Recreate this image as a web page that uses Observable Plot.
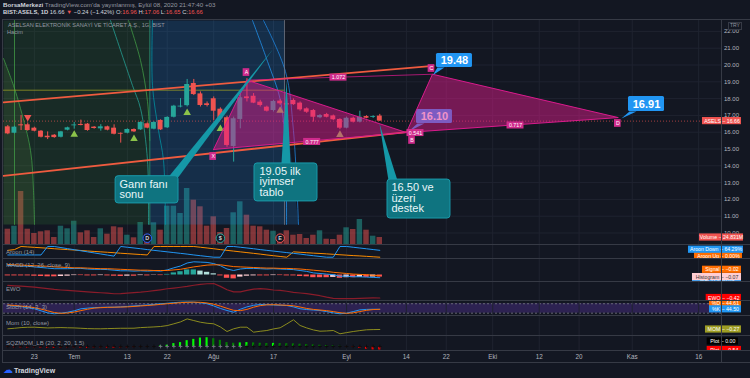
<!DOCTYPE html>
<html><head><meta charset="utf-8">
<script src="https://cdn.jsdelivr.net/npm/d3@7"></script>
<script src="https://cdn.jsdelivr.net/npm/@observablehq/plot@0.6"></script>
<style>
html,body{margin:0;padding:0;background:#131722;}
#root{position:relative;width:750px;height:378px;background:#131722;overflow:hidden;font-family:"Liberation Sans",Arial,sans-serif;}
#root svg{position:absolute;left:0;}
.t{position:absolute;white-space:nowrap;line-height:1;}
.sep{position:absolute;background:#363a45;}
</style></head>
<body><div id="root"></div>
<script>
// ---------------- DATA ----------------
const candleOpen  = [16.32,15.94,16.44,16.44,16.24,16.06,15.76,15.82,15.70,16.12,16.38,16.46,16.48,16.30,16.20,16.32,16.24,15.93,15.94,16.16,16.14,16.50,16.18,16.70,16.26,16.89,17.50,17.58,18.90,18.28,17.69,17.99,17.37,16.86,15.15,16.76,18.10,18.14,17.79,17.49,17.29,17.85,17.70,17.89,17.73,17.39,17.29,16.86,17.05,16.97,16.76,16.24,16.83,16.60,16.93,16.88,16.96];
const candleHigh  = [16.40,16.36,16.99,16.55,16.30,16.10,16.02,15.86,16.05,16.30,16.58,16.72,16.52,16.34,16.45,16.36,16.44,15.96,16.20,16.20,16.62,16.56,16.62,16.74,16.92,17.60,18.00,19.14,19.14,18.40,17.80,18.10,17.45,16.95,16.90,18.50,19.19,18.30,17.90,17.55,17.90,17.95,17.92,17.98,17.80,17.45,17.35,17.05,17.12,17.02,16.80,16.90,16.90,17.25,16.98,16.98,17.06];
const candleLow   = [15.85,15.90,16.10,16.06,16.02,15.66,15.56,15.64,15.66,16.08,16.18,16.38,16.06,16.18,16.06,16.08,15.84,15.35,15.90,15.98,16.10,16.20,16.14,16.10,16.22,16.85,17.45,17.50,18.18,17.50,17.50,16.70,16.70,15.10,14.22,16.20,17.80,17.70,17.50,17.20,17.20,17.60,17.50,17.60,17.25,17.12,16.60,16.80,16.85,16.70,16.15,16.20,16.55,16.55,16.80,16.82,16.65];
const candleClose = [15.90,16.30,16.38,16.10,16.06,15.70,15.67,15.68,16.02,16.26,16.42,16.40,16.10,16.22,16.32,16.12,15.88,15.88,16.16,16.02,16.58,16.24,16.58,16.14,16.88,17.55,17.55,18.84,18.24,17.59,17.59,17.25,16.80,15.21,16.80,18.05,18.00,17.73,17.59,17.25,17.83,17.69,17.62,17.64,17.33,17.19,16.89,16.99,16.89,16.74,16.24,16.83,16.60,16.89,16.83,16.90,16.66];
const volumeM = [54.3,65.0,188.2,54.3,39.1,45.1,48.6,24.9,65.0,55.7,82.7,41.5,48.6,24.9,55.7,36.6,62.8,59.3,33.0,23.8,78.1,35.5,77.0,50.8,136.0,136.0,110.1,198.8,157.3,133.8,65.0,98.3,42.6,56.8,112.5,151.6,104.0,65.0,62.8,50.8,47.2,33.0,48.6,33.0,35.5,21.3,33.0,48.6,18.8,17.8,33.0,59.3,53.3,88.8,50.8,29.5,24.83];
const aroonUp   = [64,71,100,96,92,88,84,79,75,71,67,63,58,54,50,46,42,37,33,29,25,21,100,100,100,100,100,100,100,93,86,79,71,64,57,50,43,36,29,21,14,7,0,50,46,42,38,35,31,27,23,19,15,12,8,4,0];
const aroonDown = [21,21,21,21,21,21,100,100,90,80,70,60,50,40,30,20,10,100,93,86,79,71,64,57,50,43,36,29,21,14,7,0,0,100,100,93,86,79,71,64,57,50,43,36,29,21,14,7,0,0,100,100,92.86,85.71,78.57,71.43,64.29];
const macdLine   = [.32,.31,.30,.29,.27,.25,.23,.21,.21,.21,.22,.22,.20,.19,.19,.18,.16,.14,.14,.13,.14,.13,.14,.13,.17,.24,.30,.40,.44,.43,.42,.38,.31,.20,.15,.20,.22,.22,.21,.20,.21,.20,.19,.18,.15,.12,.07,.05,.03,.01,-.04,-.04,-.06,-.06,-.07,-.08,-.09];
const macdSignal = [.35,.34,.33,.32,.31,.30,.29,.27,.26,.25,.24,.24,.23,.22,.21,.21,.20,.19,.18,.17,.16,.16,.15,.15,.15,.17,.19,.23,.27,.30,.33,.34,.34,.31,.28,.27,.26,.25,.24,.23,.23,.22,.22,.21,.20,.18,.16,.14,.12,.09,.07,.05,.03,.02,.01,-.01,-.02];
const macdHist   = [-.03,-.03,-.03,-.03,-.04,-.05,-.06,-.06,-.05,-.04,-.02,-.02,-.03,-.03,-.02,-.03,-.04,-.05,-.04,-.04,-.02,-.03,-.01,-.02,.02,.07,.11,.17,.17,.13,.09,.04,-.03,-.11,-.13,-.07,-.04,-.03,-.03,-.03,-.02,-.02,-.03,-.03,-.05,-.06,-.09,-.09,-.09,-.08,-.11,-.09,-.09,-.08,-.08,-.07,-.07];
const ewo = [.68,.65,.62,.57,.53,.47,.40,.33,.28,.24,.20,.16,.12,.08,.04,.00,-.05,-.04,.00,.05,.09,.15,.22,.30,.39,.45,.52,.60,.70,.78,.83,.85,.60,.30,.12,.12,.25,.36,.41,.35,.28,.24,.17,.08,.02,-.03,-.12,-.22,-.35,-.45,-.47,-.48,-.47,-.45,-.43,-.41,-.42];
const stochK = [69,65,62,55,48,35,22,16,20,26,35,48,52,55,57,58,58,60,63,66,69,72,76,80,83,87,90,91,90,86,80,66,50,37,26,45,60,70,75,74,72,70,69,60,48,43,40,37,30,22,16,20,30,41,44,45,44.5];
const stochD = [72,69,65,61,55,46,35,24,19,21,27,36,45,52,55,57,58,59,60,63,66,69,72,76,80,83,87,89,90,89,85,77,65,51,38,36,44,58,68,73,74,72,70,67,59,50,44,40,36,30,23,19,22,30,38,43,44.61];
const mom = [-.06,.1,.3,.4,.42,.3,.2,.25,.3,.24,.2,.1,0,-.05,-.06,0,.05,.1,.1,.12,.3,.4,.5,.63,.9,1.43,2.0,2.9,2.4,1.9,1.6,1.43,.5,-.87,-.06,.42,.42,-1.07,-.8,-.57,-.1,.24,1.4,2.63,.93,.2,-.4,-.78,-.7,-.57,-1.55,-1.2,-.87,-.6,-.36,-.3,-.27];
const sqz = [-.15,-.2,-.22,-.25,-.22,-.25,-.28,-.3,-.28,-.25,-.22,-.25,-.28,-.25,-.22,-.25,-.28,-.26,-.22,-.18,-.14,-.1,-.05,.08,.2,.45,.6,.9,1.1,1.3,1.35,1.2,.95,.6,.5,.55,.6,.55,.5,.45,.48,.45,.42,.4,.35,.3,.25,.2,.15,.1,.05,-.05,-.12,-.3,-.42,-.52,-.54];
const priceTicks = [10,11,12,13,14,15,16,17,18,19,20,21,22];
const timeTickIdx = [4,10,18,24,31,40,51,60,66,73,80,86,94,104];
const timeTickLabels = ["23","Tem","13","22","Ağu","17","Eyl","14","22","Eki","12","20","Kas","16"];
const upMarkerIdx = [10,19,27,32,41,50];
const upMarkerPrice = [15.86,15.6,17.15,16.2,17.29,15.85];
const downMarkerIdx = [3];
const downMarkerPrice = [16.89];
const eventIdx = [21,32,41];
const eventText = ["D","$","E"];
const eventColor = ["#2962ff","#26a69a","#ef5350"];
// harmonic pattern (XABCD)
const patternNames = ["X","A","B","C","D"];
const patternIdx   = [30.97,36.0,60.0,63.93,91.9];
const patternPrice = [14.97,19.1,15.98,19.45,16.87];
const patternLabelIdx   = [30.92,35.93,60.85,63.78,91.83];
const patternLabelPrice = [14.55,19.55,15.51,19.79,16.52];
const ratioText  = ["1.072","0.777","0.541","0.717"];
const ratioIdx   = [49.78,45.82,61.37,76.43];
const ratioPrice = [19.25,15.42,15.95,16.4];
// trend lines [idx, price]
const upperLine = [[-0.65,17.77],[64.08,19.95]];
const lowerLine = [[-0.65,13.40],[60.02,16.0]];
const olivePrice = 18.5;
// Gann fan drawing (idx, price)
const gannOlive = [[-0.65,20.39],[0.86,18.78],[1.91,17.41],[3.42,14.91],[3.87,12.53],[4.02,10.51],[-0.65,10.51]];
const gannGreen = [[-0.65,22.65],[21.38,22.65],[21.38,10.51],[-0.65,10.51]];
const gannBlue  = [[21.38,22.65],[41.65,22.65],[41.8,17.89],[42.86,13.72],[43.76,10.51],[21.38,10.51]];
const gannArcs = [
  {c:"#43a047", p:[[-0.65,20.39],[0.86,18.78],[1.91,17.41],[3.42,14.91],[3.87,12.53],[4.02,10.51]]},
  {c:"#43a047", p:[[1.01,22.65],[1.01,10.51]]},
  {c:"#26a69a", p:[[15.46,22.65],[18.77,18.78],[19.98,17.41],[21.03,14.32],[21.18,10.51]]},
  {c:"#43a047", p:[[18.17,22.65],[19.98,20.27],[21.03,17.83],[21.38,15.51]]},
  {c:"#2e9e7a", p:[[21.38,22.65],[21.38,10.51]]},
  {c:"#0097a7", p:[[21.78,22.65],[21.78,18.78],[22.69,16.1],[23.44,14.32],[23.74,10.51]]},
  {c:"#2196f3", p:[[36.84,22.65],[39.1,20.21],[41.05,17.89],[41.8,14.91],[41.96,10.51]]},
  {c:"#1e88e5", p:[[38.49,22.65],[41.8,19.61],[43.0,16.1],[43.76,10.51]]},
  {c:"#787b86", p:[[41.65,22.65],[41.65,10.51]]}
];
// teal text callouts
const noteText  = ["Gann fanı\nsonu","19.05 ilk\niyimser\ntablo","16.50 ve\nüzeri\ndestek"];
const noteBox   = [[16.23,25.7,11.76,13.38],[37.14,46.62,11.88,14.14],[57.16,66.64,10.86,13.18]];
const noteAt    = [[16.81,13.125],[37.89,13.88],[57.76,12.905]];
const noteTip   = [[40.0,20.98],[41.96,19.08],[55.95,16.52]];
const noteBase  = [[24.19,25.7,13.33],[41.2,42.56,14.14],[57.31,58.66,13.12]];
// blue price callouts
const calloutText = ["19.48","16.10","16.91"];
const calloutBox  = [[64.53,69.95,19.85,20.68],[61.52,66.94,16.52,17.35],[93.44,98.86,17.23,18.13]];
const calloutAt   = [[67.24,20.27],[64.23,16.94],[96.15,17.68]];
const calloutTip  = [[64.0,19.4],[60.32,16.04],[92.38,16.82]];
const calloutBase = [[64.68,65.74,19.85],[61.67,62.72,16.52],[93.59,94.64,17.23]];

// ---------------- LAYOUT ----------------
const root = document.getElementById("root");
const XDOM = [-0.647, 107.44];
const FONT = "Liberation Sans, Arial, sans-serif";
const pxToIdx = px => (px - 7.3) / 6.643;
const n = candleOpen.length;
const candles = candleOpen.map((o,i)=>({i,o,h:candleHigh[i],l:candleLow[i],c:candleClose[i],v:volumeM[i]}));
const UP = "#26a69a", DOWN = "#ef5350";

function addPlot(top, height, ydom, marks) {
  const svg = Plot.plot({
    width: 750, height, marginLeft: 3, marginRight: 29, marginTop: 0, marginBottom: 0,
    x: {domain: XDOM, axis: null},
    y: {domain: ydom, axis: null},
    color: {type: "identity"},
    style: {background: "transparent", maxWidth: "none", fontFamily: FONT},
    marks
  });
  svg.style.position = "absolute"; svg.style.left = "0px"; svg.style.top = top + "px";
  root.appendChild(svg);
  return svg;
}
function flag(label, value, px1, px2, fill, textFill, ydom, height, dy = 0) {
  const u = (ydom[1] - ydom[0]) / height, h = 3.6 * u;
  return [
    Plot.rect([0], {x1: pxToIdx(px1), x2: pxToIdx(px2), y1: value - h, y2: value + h, fill, dy}),
    Plot.text([0], {x: pxToIdx((px1 + px2) / 2), y: value, text: () => label, fill: textFill, fontSize: 5.2, dy, fontFamily: FONT})
  ];
}
const vgrid = Plot.ruleX(timeTickIdx, {x: d => d, stroke: "#1f2330"});

// --- main pane (y 20..244) ---
const MAINDOM = [9.315, 22.649], MAINH = 224;
// layer 0: grid
addPlot(20, MAINH, MAINDOM, [
  Plot.ruleY(priceTicks, {y: d => d, stroke: "#1f2330"}),
  vgrid
]);
// layer 1: volume
const VOLDOM = [0, 795.2];
addPlot(20, MAINH, VOLDOM, [
  Plot.rect(candles, {x1: d => d.i - 0.41, x2: d => d.i + 0.41, y1: 0, y2: "v",
    fill: d => d.c >= d.o ? "rgba(38,166,154,0.5)" : "rgba(239,83,80,0.5)"}),
  Plot.dot(eventIdx, {x: d => d, y: 22.4, r: 4.3, fill: "#131722", stroke: (d,i) => eventColor[i], strokeWidth: 1}),
  Plot.text(eventIdx, {x: d => d, y: 22.4, text: (d,i) => eventText[i], fill: "#d1d4dc", fontSize: 5.5, fontWeight: "bold"})
]);
// layer 2: price overlay
const poly = (pts, opts) => Plot.line(pts, {x: d => d[0], y: d => d[1], ...opts});
const polyClosed = (pts, opts) => Plot.line([...pts, pts[0]], {x: d => d[0], y: d => d[1], ...opts});
const pat = i => [patternIdx[i], patternPrice[i]];
const mainMarks = [
  polyClosed(gannGreen, {fill: "rgba(56,142,60,0.17)", stroke: "none", clip: true}),
  polyClosed(gannOlive, {fill: "rgba(139,195,74,0.10)", stroke: "none", clip: true}),
  polyClosed(gannBlue, {fill: "rgba(33,150,243,0.19)", stroke: "none", clip: true}),
  ...gannArcs.map(a => poly(a.p, {stroke: a.c, strokeWidth: 1, strokeOpacity: 0.75, curve: "catmull-rom", clip: true})),
  Plot.ruleY([olivePrice], {x1: -0.65, x2: 41.65, stroke: "#9e9d24", strokeOpacity: 0.75}),
  poly(upperLine, {stroke: "#ef5b3f", strokeWidth: 1.8}),
  poly(lowerLine, {stroke: "#ef5b3f", strokeWidth: 1.8}),
  Plot.ruleY([candleClose[n-1]], {stroke: "#ef5350", strokeOpacity: 0.65, strokeDasharray: "1,2"}),
  Plot.ruleX(candles, {x: "i", y1: "l", y2: "h", stroke: d => d.c >= d.o ? UP : DOWN, strokeWidth: 1}),
  Plot.rect(candles, {x1: d => d.i - 0.37, x2: d => d.i + 0.37,
    y1: d => Math.min(d.o, d.c), y2: d => Math.max(d.o, d.c, Math.min(d.o, d.c) + 0.05),
    fill: d => d.c >= d.o ? UP : DOWN}),
  Plot.dot(upMarkerIdx, {x: d => d, y: (d,i) => upMarkerPrice[i], symbol: "triangle", r: 2.8, fill: "#8bc34a", stroke: "none"}),
  Plot.dot(downMarkerIdx, {x: d => d, y: (d,i) => downMarkerPrice[i], symbol: "triangle", rotate: 180, r: 2.8, fill: "#ef5350", stroke: "none"}),
  // blue callout under the BCD triangle (16.10)
  polyClosed([[calloutBase[1][0],calloutBase[1][2]], calloutTip[1], [calloutBase[1][1],calloutBase[1][2]]], {fill: "#2196f3", stroke: "none"}),
  Plot.rect([1], {x1: i => calloutBox[i][0], x2: i => calloutBox[i][1], y1: i => calloutBox[i][2], y2: i => calloutBox[i][3], fill: "#2196f3", rx: 1.5}),
  Plot.text([1], {x: i => calloutAt[i][0], y: i => calloutAt[i][1], text: i => calloutText[i], fill: "#fff", fontSize: 11, fontWeight: "bold", fontFamily: FONT}),
  // XABCD pattern
  polyClosed([pat(0), pat(1), pat(2)], {fill: "rgba(226,28,140,0.48)", stroke: "#d81b8c", strokeWidth: 1}),
  polyClosed([pat(2), pat(3), pat(4)], {fill: "rgba(226,28,140,0.48)", stroke: "#d81b8c", strokeWidth: 1}),
  poly([pat(1), pat(3)], {stroke: "rgba(216,27,140,0.75)", strokeWidth: 1}),
  Plot.rect(ratioText, {x1: (d,i) => ratioIdx[i] - 1.28, x2: (d,i) => ratioIdx[i] + 1.28, y1: (d,i) => ratioPrice[i] - 0.21, y2: (d,i) => ratioPrice[i] + 0.21, fill: "#cf2b8c"}),
  Plot.text(ratioText, {x: (d,i) => ratioIdx[i], y: (d,i) => ratioPrice[i], text: d => d, fill: "#fff", fontSize: 5.3, fontFamily: FONT}),
  Plot.rect(patternNames, {x1: (d,i) => patternLabelIdx[i] - 0.5, x2: (d,i) => patternLabelIdx[i] + 0.5, y1: (d,i) => patternLabelPrice[i] - 0.23, y2: (d,i) => patternLabelPrice[i] + 0.23, fill: "#cf2b8c"}),
  Plot.text(patternNames, {x: (d,i) => patternLabelIdx[i], y: (d,i) => patternLabelPrice[i], text: d => d, fill: "#fff", fontSize: 5.3, fontFamily: FONT}),
  // blue callouts 19.48 and 16.91
  ...[0, 2].flatMap(k => [
    polyClosed([[calloutBase[k][0],calloutBase[k][2]], calloutTip[k], [calloutBase[k][1],calloutBase[k][2]]], {fill: "#2196f3", stroke: "none"}),
    Plot.rect([k], {x1: i => calloutBox[i][0], x2: i => calloutBox[i][1], y1: i => calloutBox[i][2], y2: i => calloutBox[i][3], fill: "#2196f3", rx: 1.5}),
    Plot.text([k], {x: i => calloutAt[i][0], y: i => calloutAt[i][1], text: i => calloutText[i], fill: "#fff", fontSize: 11, fontWeight: "bold", fontFamily: FONT})
  ]),
  // teal notes
  ...noteText.flatMap((t, k) => [
    polyClosed([[noteBase[k][0],noteBase[k][2]], noteTip[k], [noteBase[k][1],noteBase[k][2]]], {fill: "#1598a7", stroke: "none", clip: true}),
    Plot.rect([k], {x1: i => noteBox[i][0], x2: i => noteBox[i][1], y1: i => noteBox[i][2], y2: i => noteBox[i][3], fill: "#0f7480", stroke: "#1a9aaa", strokeWidth: 1, rx: 3}),
    Plot.text([k], {x: i => noteAt[i][0], y: i => noteAt[i][1], text: i => noteText[i], fill: "#e8f6f8", fontSize: 11, lineAnchor: "top", textAnchor: "start", lineHeight: 0.93, fontFamily: FONT})
  ]),
  Plot.axisY(priceTicks, {anchor: "right", tickSize: 0, tickPadding: 2.5, fontSize: 6, fill: "#b2b5be", tickFormat: d => d.toFixed(2), textAnchor: "start"}),
  ...flag("ASELS − 16.66", candleClose[n-1], 702, 741, "#ef5350", "#fff", MAINDOM, MAINH)
];
addPlot(20, MAINH, MAINDOM, mainMarks);
// layer 3: volume value flag above the price axis labels
addPlot(20, MAINH, VOLDOM, [
  ...flag("Volume − 24.831M", volumeM[n-1], 699, 743, "#ef5350", "#fff", VOLDOM, MAINH)
]);

// --- Aroon (245..258) ---
const idx = d3.range(n);
const AR = [-12.1, 109.3];
addPlot(245, 13, AR, [
  vgrid,
  Plot.line(idx, {x: d => d, y: i => aroonUp[i], stroke: "#fb8c00", strokeWidth: 1}),
  Plot.line(idx, {x: d => d, y: i => aroonDown[i], stroke: "#2196f3", strokeWidth: 1}),
  ...flag("Aroon Up − 0.00%", aroonUp[n-1], 694, 742, "#ff6d00", "#fff", AR, 13, -1.2),
  ...flag("Aroon Down − 64.29%", aroonDown[n-1], 688, 743, "#2196f3", "#fff", AR, 13, -0.6)
]);
// --- MACD (259..281) ---
const MD = [-0.217, 0.517];
addPlot(259, 22, MD, [
  vgrid,
  Plot.rect(idx, {x1: d => d - 0.4, x2: d => d + 0.4, y1: 0, y2: i => macdHist[i],
    fill: i => macdHist[i] >= 0 ? (i > 0 && macdHist[i] < macdHist[i-1] ? "#b2dfdb" : "#26a69a")
                                 : (i > 0 && macdHist[i] > macdHist[i-1] ? "#ffcdd2" : "#ff5252")}),
  Plot.line(idx, {x: d => d, y: i => macdLine[i], stroke: "#2196f3", strokeWidth: 1}),
  Plot.line(idx, {x: d => d, y: i => macdSignal[i], stroke: "#ff6d00", strokeWidth: 1}),
  ...flag("MACD − −0.09", macdLine[n-1], 692, 741, "#2196f3", "#fff", MD, 22, 2.5),
  ...flag("Histogram − −0.07", macdHist[n-1], 692, 741, "#ffcdd2", "#333", MD, 22, 0),
  ...flag("Signal − −0.02", macdSignal[n-1], 702, 741, "#ff6d00", "#fff", MD, 22, -5.8)
]);
// --- EWO (282..300) ---
const EW = [-0.64, 0.939];
addPlot(282, 18, EW, [
  vgrid,
  Plot.line(idx, {x: d => d, y: i => ewo[i], stroke: "#8a1c2a", strokeWidth: 1.2}),
  ...flag("EWO − −0.42", ewo[n-1], 705.7, 741, "#ff0000", "#fff", EW, 18)
]);
// --- Stoch (301..315) ---
const ST = [5.1, 94.3];
addPlot(301, 14, ST, [
  Plot.rect([0], {x1: XDOM[0], x2: XDOM[1], y1: 20, y2: 80, fill: "rgba(103,58,183,0.32)"}),
  Plot.ruleY([20, 80], {stroke: "#787b86", strokeDasharray: "2,2", strokeOpacity: 0.8}),
  vgrid,
  Plot.line(idx, {x: d => d, y: i => stochK[i], stroke: "#2196f3", strokeWidth: 1}),
  Plot.line(idx, {x: d => d, y: i => stochD[i], stroke: "#ff6d00", strokeWidth: 1}),
  ...flag("%D − 44.61", stochD[n-1], 709, 741, "#ff6d00", "#fff", ST, 14, -6.3),
  ...flag("%K − 44.50", stochK[n-1], 709, 741, "#2196f3", "#fff", ST, 14)
]);
// --- Mom (316..335) ---
const MO = [-2.06, 3.61];
addPlot(316, 19, MO, [
  vgrid,
  Plot.line(idx, {x: d => d, y: i => mom[i], stroke: "#8c8c1e", strokeWidth: 1}),
  ...flag("MOM − −0.27", mom[n-1], 705, 741, "#9e9d24", "#fff", MO, 19)
]);
// --- SQZMOM (336..350) ---
const SQ = [-0.615, 1.54];
addPlot(336, 14, SQ, [
  vgrid,
  Plot.rect(idx, {x1: d => d - 0.16, x2: d => d + 0.16, y1: 0, y2: i => sqz[i],
    fill: i => sqz[i] >= 0 ? (i > 0 && sqz[i] < sqz[i-1] ? "#008000" : "#00ff00")
                           : (i > 0 && sqz[i] > sqz[i-1] ? "#800000" : "#ff0000")}),
  Plot.dot(idx, {x: d => d, y: 0, symbol: "plus", r: 1.3, stroke: i => (i > 22 && i < 36) ? "#787b86" : "#0b0b0b", strokeWidth: 0.8}),
  ...flag("Plot − 0.00", 0, 706.7, 738, "#000000", "#fff", SQ, 14, -5),
  ...flag("Plot − −0.54", sqz[n-1], 706.7, 741, "#ff0000", "#fff", SQ, 14)
]);
// --- time axis (351..362) ---
addPlot(351, 11, [0, 1], [
  Plot.text(timeTickIdx, {x: d => d, frameAnchor: "middle", text: (d,i) => timeTickLabels[i], fill: "#b2b5be", fontSize: 6.3, fontFamily: FONT})
]);

// ---------------- HTML text & frame ----------------
function addText(html, x, y, size, color, extra = "") {
  const d = document.createElement("div");
  d.className = "t"; d.style.left = x + "px"; d.style.top = y + "px";
  d.style.fontSize = size + "px"; d.style.color = color; d.style.cssText += extra;
  d.innerHTML = html; root.appendChild(d);
}
function sep(x, y, w, h) {
  const d = document.createElement("div"); d.className = "sep";
  d.style.left = x + "px"; d.style.top = y + "px"; d.style.width = w + "px"; d.style.height = h + "px";
  root.appendChild(d);
}
[19, 244, 258, 281, 300, 315, 335, 350, 362].forEach(y => sep(2, y, 748, 1));
sep(2, 19, 1, 344);
sep(721, 19, 1, 344);

const R = "#ef5350";
addText(`<b style="color:#d1d4dc">BorsaMerkezi</b> <span style="color:#9598a1">TradingView.com'da yayınlanmış, Eylül 08, 2020 21:47:40 +03</span>`, 3, 2, 6.2, "#9598a1");
addText(`<b style="color:#d1d4dc">BIST:ASELS, 1D</b> <span style="color:#d1d4dc">16.66</span> <span style="color:${R}">▼</span> <span style="color:#d1d4dc">−0.24 (−1.42%)</span> <span style="color:#d1d4dc">O:</span><span style="color:${R}">16.96</span> <span style="color:#d1d4dc">H:</span><span style="color:${R}">17.06</span> <span style="color:#d1d4dc">L:</span><span style="color:${R}">16.65</span> <span style="color:#d1d4dc">C:</span><span style="color:${R}">16.66</span>`, 3, 10, 5.9, "#d1d4dc");
addText("ASELSAN ELEKTRONİK SANAYİ VE TİCARET A.Ş., 1G, BIST", 8, 22.5, 5.6, "#9598a1");
addText("Hacim", 7, 30, 5.6, "#9598a1");
addText("TRY", 728, 21.5, 5, "#9598a1", "border:1px solid #363a45;padding:0.5px 1px;");
const paneLabels = [["Aroon (14)", 248.6], ["MACD (12, 26, close, 9)", 262.2], ["EWO", 285.8], ["Stoch (14, 3, 3)", 304.4], ["Mom (10, close)", 320], ["SQZMOM_LB (20, 2, 20, 1.5)", 340]];
paneLabels.forEach(([t, y]) => addText(t, 6, y, 6, "#9598a1"));
addText("☁", 3, 364.5, 9.5, "#2962ff");
addText("TradingView", 14, 366.5, 7, "#d1d4dc", "font-weight:bold;");
</script></body></html>
